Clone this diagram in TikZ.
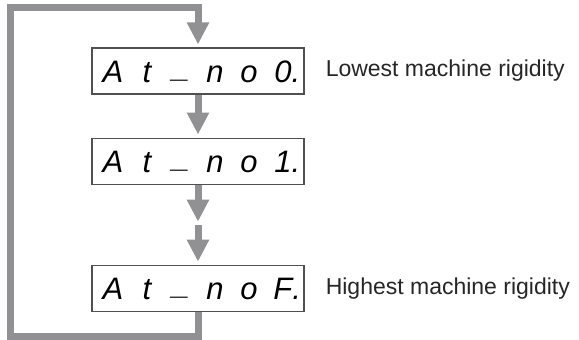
\documentclass[tikz,border=0pt]{standalone}
\usepackage{fontspec}
\setmainfont{Liberation Sans}
\newfontfamily\segfont{Liberation Sans}
\usetikzlibrary{arrows.meta,positioning,calc}
\definecolor{flowgray}{RGB}{145,145,148}
\definecolor{framegray}{RGB}{80,80,80}
\newcommand{\dg}[1]{\makebox[34pt][c]{#1}}
\newcommand{\dgbar}{\dg{\raisebox{5pt}{\_}}}

\begin{document}
\begin{tikzpicture}[x=1pt,y=-1pt,>=Latex,
  every node/.style={font=\fontsize{23}{26}\selectfont},
  disp/.style={draw=framegray,line width=1.1pt,fill=white,minimum width=212pt,minimum height=46pt,inner sep=0pt,text height=23pt,text depth=0pt,font=\segfont\itshape\fontsize{31}{31}\selectfont},
  note/.style={inner sep=0pt,anchor=west,text=black!85},
  flow/.style={draw=flowgray,line width=7pt,-{Triangle[length=22pt,width=21pt]},shorten >=3pt}]
\useasboundingbox (0,0) rectangle (579,340);
\node[disp] (b1) at (198,71) {\dg{A}\dg{t}\dgbar\dg{n}\dg{o}\dg{0\rlap{.}}};
\node[disp,below=43pt of b1] (b2) {\dg{A}\dg{t}\dgbar\dg{n}\dg{o}\dg{1\rlap{.}}};
\node[disp,below=80pt of b2] (b3) {\dg{A}\dg{t}\dgbar\dg{n}\dg{o}\dg{F\rlap{.}}};
\node[note,right=21pt of b1] (lo) {Lowest machine rigidity};
\node[note,right=21pt of b3] (hi) {Highest machine rigidity};
% arrows between the displays
\coordinate (m) at ($(b2.south)!0.5!(b3.north)$);
\draw[flow] (b1)--(b2);\draw[flow] (b2)--(m);\draw[flow] (m)--(b3);
% return loop
\coordinate (lb) at (10,336);
\coordinate (lt) at (10,7);
\draw[flow] (b3.south) |- (lb) -- (lt) -| (b1.north);
\end{tikzpicture}
\end{document}
